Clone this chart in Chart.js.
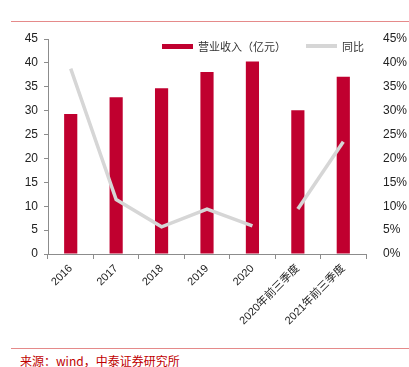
<!DOCTYPE html>
<html>
<head>
<meta charset="utf-8">
<script src="https://cdn.jsdelivr.net/npm/chart.js@4.4.0/dist/chart.umd.min.js"></script>
<style>
  body { margin: 0; background: #fff; }
  #wrap { position: relative; width: 409px; height: 367px; overflow: hidden; }
  .rule { position: absolute; left: 11px; right: 0; height: 1px; background: #e58a8a; }
  #chart-box { position: absolute; left: 0; top: 22px; width: 409px; height: 322px; }
  #source { position: absolute; left: 20px; top: 352px; font: 12px "Noto Sans CJK SC", sans-serif; color: #c00000; }
  #legend { position: absolute; top: 36px; left: 162px; font: 11px "Noto Sans CJK SC", sans-serif; color: #333; white-space: nowrap; }
  #legend span { display: inline-block; vertical-align: middle; }
  .swatch { width: 31px; height: 5px; margin-right: 5px; }
</style>
</head>
<body>
<div id="wrap">
  <div class="rule" style="top:21px"></div>
  <div id="chart-box"><canvas id="chart" width="409" height="322"></canvas></div>
  <div id="legend"></div>
  <div class="rule" style="top:348px"></div>
  <div id="source">来源：wind，中泰证券研究所</div>
</div>
<script>
// values
const categories = ['2016', '2017', '2018', '2019', '2020', '2020年前三季度', '2021年前三季度'];
const revenue = [29.3, 32.8, 34.7, 38.1, 40.3, 30.1, 37.1];
const yoy = [38.8, 11.4, 5.7, 9.4, 5.9, 9.4, 23.5];
const leftTicks = [0, 5, 10, 15, 20, 25, 30, 35, 40, 45];

const RED = '#c0002f';
const GREY = '#d6d6d6';
const AXIS = '#8c8c8c';

const ctx = document.getElementById('chart').getContext('2d');
const chart = new Chart(ctx, {
  data: {
    labels: categories,
    datasets: [
      {
        type: 'bar',
        label: '营业收入（亿元）',
        data: revenue,
        yAxisID: 'y',
        backgroundColor: RED,
        barPercentage: 0.58,
        categoryPercentage: 0.5,
        order: 1
      },
      {
        type: 'line',
        label: '同比',
        data: yoy,
        yAxisID: 'y1',
        borderColor: GREY,
        backgroundColor: GREY,
        borderWidth: 3.5,
        pointRadius: 0,
        tension: 0,
        order: 0,
        // no segment between the full-year and the year-to-date points
        segment: { borderColor: c => c.p0DataIndex === 4 ? 'rgba(0,0,0,0)' : GREY }
      }
    ]
  },
  options: {
    responsive: false,
    animation: false,
    layout: { padding: { top: 17, right: 0, left: 0, bottom: 0 } },
    plugins: {
      tooltip: { enabled: false },
      legend: { display: false }
    },
    scales: {
      x: {
        offset: true,
        grid: { offset: true, drawOnChartArea: false, drawTicks: true, tickLength: 5, color: AXIS },
        border: { display: true, color: AXIS },
        ticks: {
          minRotation: 45, maxRotation: 45, autoSkip: false,
          color: '#222',
          font: { size: 11, family: '"Liberation Sans", "Noto Sans CJK SC", sans-serif' }
        },
        afterFit(scale) { scale.height = 90; }
      },
      y: {
        position: 'left',
        min: 0, max: 45,
        afterBuildTicks(scale) { scale.ticks = leftTicks.map(v => ({ value: v })); },
        grid: { drawOnChartArea: false, drawTicks: true, tickLength: 4, color: AXIS },
        border: { display: true, color: AXIS },
        ticks: { color: '#222', padding: 6, font: { size: 12, family: '"Liberation Sans", sans-serif' } },
        afterFit(scale) { scale.width = 48; }
      },
      y1: {
        position: 'right',
        min: 0, max: 45,
        afterBuildTicks(scale) { scale.ticks = leftTicks.map(v => ({ value: v })); },
        grid: { display: false },
        border: { display: false },
        ticks: {
          color: '#222', padding: 9,
          font: { size: 12, family: '"Liberation Sans", sans-serif' },
          callback: v => v + '%'
        },
        afterFit(scale) { scale.width = 43; }
      }
    }
  }
});

// legend built from the chart's datasets
const legend = document.getElementById('legend');
chart.data.datasets.forEach((ds, i) => {
  const sw = document.createElement('span');
  sw.className = 'swatch';
  sw.style.background = ds.type === 'line' ? ds.borderColor : ds.backgroundColor;
  if (ds.type === 'line') sw.style.height = '4px';
  const tx = document.createElement('span');
  tx.textContent = ds.label;
  tx.style.marginRight = i === 0 ? '20px' : '0';
  legend.appendChild(sw);
  legend.appendChild(tx);
});
</script>
</body>
</html>
